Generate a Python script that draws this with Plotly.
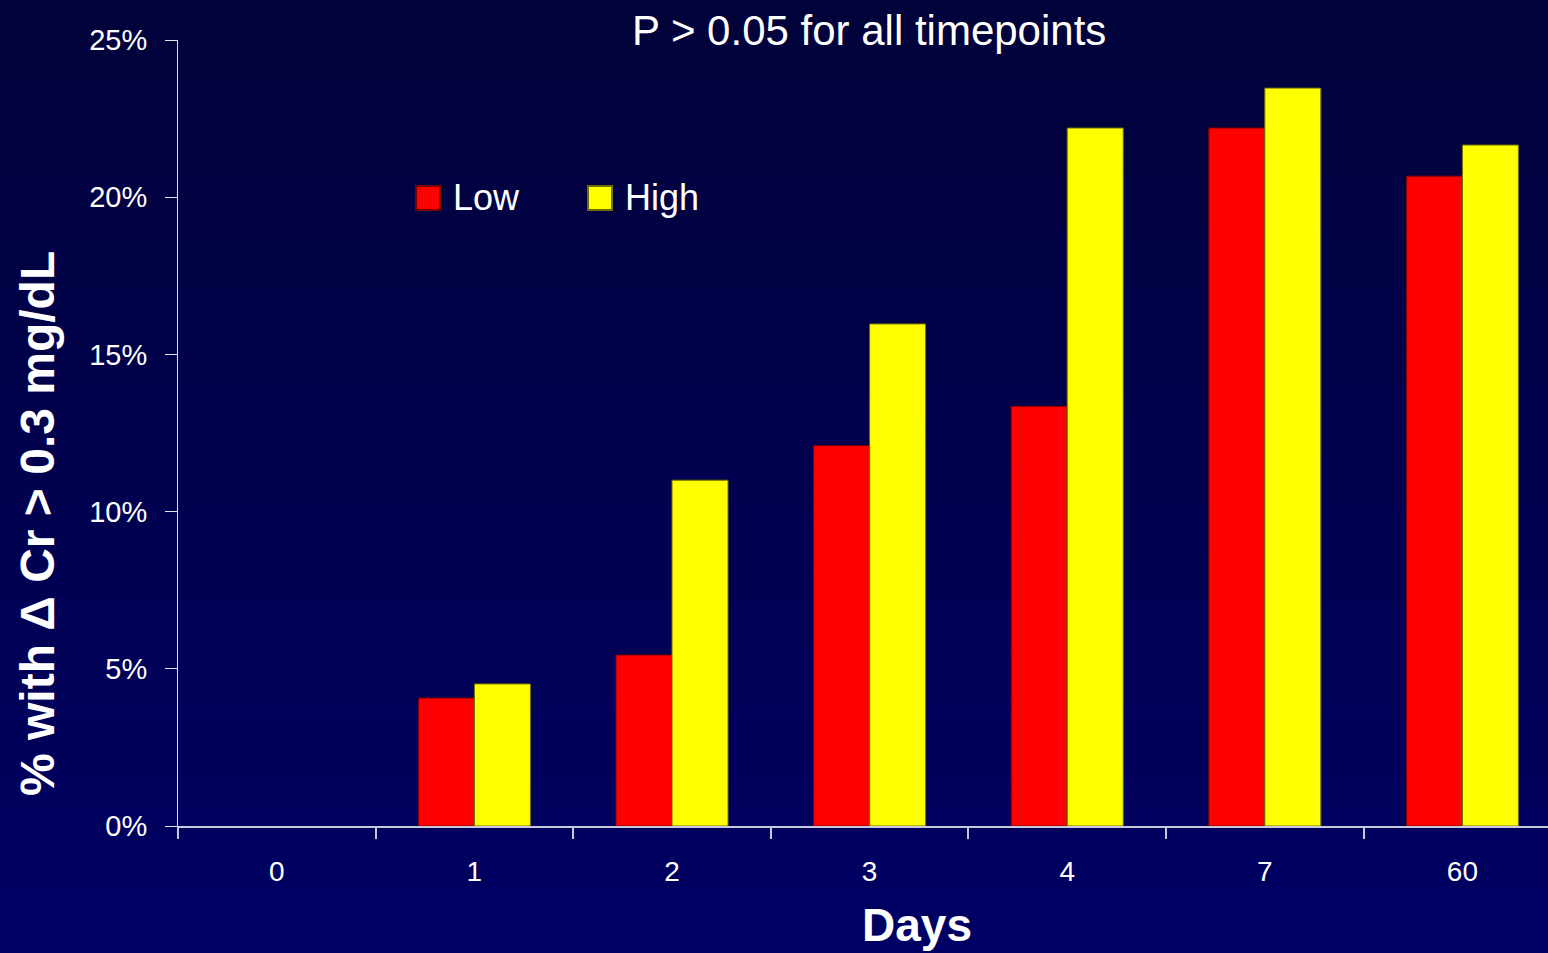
import plotly.graph_objects as go

days = ["0", "1", "2", "3", "4", "7", "60"]
low_vals = [0.0, 4.07, 5.44, 12.1, 13.35, 22.2, 20.67]
high_vals = [0.0, 4.52, 11.0, 15.97, 22.2, 23.47, 21.66]
series_names = ["Low", "High"]
series_colors = ["#FF0000", "#FFFF00"]
series_edges = ["#7A0000", "#6E6E00"]
y_ticks = [0, 5, 10, 15, 20, 25]
y_tick_text = ["0%", "5%", "10%", "15%", "20%", "25%"]

W, H = 1548, 953
L, T, B, R = 178, 40, 127, 0
pw, ph = W - L - R, H - T - B

def px_x(px):
    return (px - L) / pw

def px_y(py):
    return (H - B - py) / ph

fig = go.Figure()
for name, vals, col, edge in zip(series_names, [low_vals, high_vals], series_colors, series_edges):
    fig.add_trace(go.Bar(
        x=days, y=vals, name=name,
        marker=dict(color=col, line=dict(color=edge, width=[0 if v == 0 else 1 for v in vals])),
        showlegend=False,
    ))

shapes = []
# background gradient
n = 60
top_c = (2, 2, 58)
bot_c = (0, 0, 100)
for i in range(n):
    f = (i + 0.5) / n
    c = tuple(round(top_c[k] + (bot_c[k] - top_c[k]) * f) for k in range(3))
    y0 = i * H / n
    y1 = (i + 1) * H / n + 1
    shapes.append(dict(type="rect", xref="paper", yref="paper",
                       x0=px_x(-5), x1=px_x(W + 5), y0=px_y(y1), y1=px_y(y0),
                       fillcolor="rgb(%d,%d,%d)" % c, line=dict(width=0), layer="below"))

annotations = []
# manual legend
leg_x = [416, 588]
for name, col, edge, lx in zip(series_names, series_colors, series_edges, leg_x):
    shapes.append(dict(type="rect", xref="paper", yref="paper",
                       x0=px_x(lx), x1=px_x(lx + 24), y0=px_y(210), y1=px_y(186),
                       fillcolor=col, line=dict(color=edge, width=2), layer="above"))
    annotations.append(dict(text=name, xref="paper", yref="paper",
                            x=px_x(lx + 35), y=px_y(198), xanchor="left", yanchor="middle",
                            showarrow=False, font=dict(size=36, color="white")))

annotations.append(dict(text="P > 0.05 for all timepoints", xref="paper", yref="paper",
                        x=px_x(869), y=px_y(31), xanchor="center", yanchor="middle",
                        showarrow=False, font=dict(size=42, color="white")))
annotations.append(dict(text="% with \u0394 Cr > 0.3 mg/dL", xref="paper", yref="paper",
                        x=px_x(37), y=px_y(524), xanchor="center", yanchor="middle",
                        textangle=-90, showarrow=False,
                        font=dict(size=48, color="white", family="Liberation Sans", weight="bold")))
annotations.append(dict(text="<b>Days</b>", xref="paper", yref="paper",
                        x=px_x(917), y=px_y(953), xanchor="center", yanchor="bottom",
                        showarrow=False, font=dict(size=46, color="white")))

cat_w = 197.6
x_end = -0.5 + pw / cat_w

fig.update_layout(
    width=W, height=H,
    margin=dict(l=L, r=R, t=T, b=B, pad=0),
    paper_bgcolor="rgb(0,0,80)",
    plot_bgcolor="rgba(0,0,0,0)",
    font=dict(family="Liberation Sans, Arial, sans-serif", color="white"),
    barmode="group", bargap=0.433, bargroupgap=0,
    shapes=shapes, annotations=annotations,
    xaxis=dict(type="category", range=[-0.5, x_end], tickson="boundaries",
               showline=True, linecolor="#C8C8DC", linewidth=2,
               ticks="outside", ticklen=11, tickcolor="#C8C8DC", tickwidth=2,
               showgrid=False, zeroline=False,
               tickfont=dict(size=28, color="white"), ticklabelstandoff=19),
    yaxis=dict(range=[0, 25], tickvals=y_ticks, ticktext=y_tick_text,
               showline=True, linecolor="#E0E0E8", linewidth=1,
               ticks="outside", ticklen=12, tickcolor="#E0E0E8", tickwidth=1,
               showgrid=False, zeroline=False,
               tickfont=dict(size=29, color="white"), ticklabelstandoff=12),
)

fig.write_html("out.html")
